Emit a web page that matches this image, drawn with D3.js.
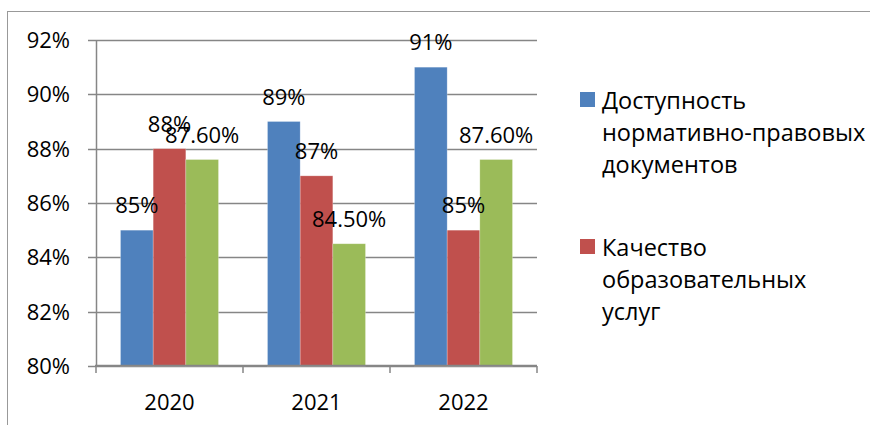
<!DOCTYPE html>
<html>
<head>
<meta charset="utf-8">
<script src="https://cdn.jsdelivr.net/npm/d3@7"></script>
<style>
  body { margin: 0; background: #fff; }
  text { font-family: "Open Sans", "Noto Sans", sans-serif; fill: #000; }
</style>
</head>
<body>
<script>
// chart data
var years = ["2020", "2021", "2022"];
var seriesNames = ["Доступность нормативно-правовых документов",
                   "Качество образовательных услуг",
                   "Третий показатель"];
var seriesColors = ["#4f81bd", "#c0504d", "#9bbb59"];
var values = [
  [85, 89, 91],
  [88, 87, 85],
  [87.6, 84.5, 87.6]
];
var valueLabels = [
  ["85%", "89%", "91%"],
  ["88%", "87%", "85%"],
  ["87.60%", "84.50%", "87.60%"]
];
var yTicks = [80, 82, 84, 86, 88, 90, 92];
// legend as visible in the picture (only two entries shown)
var legendLines = [
  ["Доступность", "нормативно-правовых", "документов"],
  ["Качество", "образовательных", "услуг"]
];

var width = 870,
    height = 425;

var fs = "22px";

var svg = d3.select("body").append("svg")
    .attr("width", width)
    .attr("height", height);

// outer frame of the embedded chart
svg.append("rect")
    .attr("x", 7.5).attr("y", 11.5)
    .attr("width", 900).attr("height", 500)
    .attr("fill", "none")
    .attr("stroke", "#999")
    .attr("stroke-width", 1);

var plot = {left: 96, right: 537, top: 40, bottom: 366};

var y = d3.scaleLinear()
    .domain([80, 92])
    .range([plot.bottom, plot.top]);

var x0 = d3.scaleBand()
    .domain(years)
    .range([plot.left, plot.right])
    .paddingInner(0)
    .paddingOuter(0);

// bar width: gap width 150%
var barW = x0.bandwidth() / 4.5;

// gridlines + tick marks
svg.append("g").selectAll("line")
    .data(yTicks)
  .enter().append("line")
    .attr("x1", plot.left - 8)
    .attr("x2", plot.right)
    .attr("y1", d => Math.round(y(d)) + 0.5)
    .attr("y2", d => Math.round(y(d)) + 0.5)
    .attr("stroke", "#868686")
    .attr("stroke-width", 1.5);

// y axis line
svg.append("line")
    .attr("x1", plot.left + 0.5).attr("x2", plot.left + 0.5)
    .attr("y1", plot.top).attr("y2", plot.bottom)
    .attr("stroke", "#868686")
    .attr("stroke-width", 1.5);

// y labels
svg.append("g").selectAll("text")
    .data(yTicks)
  .enter().append("text")
    .attr("x", 70)
    .attr("y", d => y(d) + 8)
    .attr("text-anchor", "end")
    .style("font-size", fs)
    .text(d => d + "%");

// bars
for (var s = 0; s < values.length; s++) {
  svg.append("g").selectAll("rect")
      .data(values[s])
    .enter().append("rect")
      .attr("x", (d, i) => x0(years[i]) + barW * (0.75 + s))
      .attr("y", d => y(d))
      .attr("width", barW)
      .attr("height", d => plot.bottom - y(d))
      .attr("fill", seriesColors[s])
      .attr("stroke", "rgba(255,255,255,0.35)")
      .attr("stroke-width", 0.7);
}

// x axis
svg.append("line")
    .attr("x1", plot.left - 1).attr("x2", plot.right)
    .attr("y1", plot.bottom - 0.5).attr("y2", plot.bottom - 0.5)
    .attr("stroke", "#868686")
    .attr("stroke-width", 1.5);

var xTicks = years.map(d => x0(d)).concat([plot.right]);
svg.append("g").selectAll("line")
    .data(xTicks)
  .enter().append("line")
    .attr("x1", d => d).attr("x2", d => d)
    .attr("y1", plot.bottom).attr("y2", plot.bottom + 7)
    .attr("stroke", "#868686")
    .attr("stroke-width", 1.5);

svg.append("g").selectAll("text")
    .data(years)
  .enter().append("text")
    .attr("x", d => x0(d) + x0.bandwidth() / 2)
    .attr("y", 410)
    .attr("text-anchor", "middle")
    .style("font-size", fs)
    .text(d => d);

// data labels
for (var s = 0; s < values.length; s++) {
  svg.append("g").selectAll("text")
      .data(values[s])
    .enter().append("text")
      .attr("x", (d, i) => x0(years[i]) + barW * (1.25 + s))
      .attr("y", d => y(d) - 17)
      .attr("text-anchor", "middle")
      .style("font-size", fs)
      .text((d, i) => valueLabels[s][i]);
}

// legend
var legendTop = [92, 239];
legendLines.forEach(function(lines, k) {
  var g = svg.append("g");
  g.append("rect")
      .attr("x", 580).attr("y", legendTop[k])
      .attr("width", 15).attr("height", 15)
      .attr("fill", seriesColors[k]);
  lines.forEach(function(t, j) {
    g.append("text")
        .attr("x", 602)
        .attr("y", legendTop[k] + 17 + j * 32)
        .style("font-size", "23.5px")
        .text(t);
  });
});
</script>
</body>
</html>
